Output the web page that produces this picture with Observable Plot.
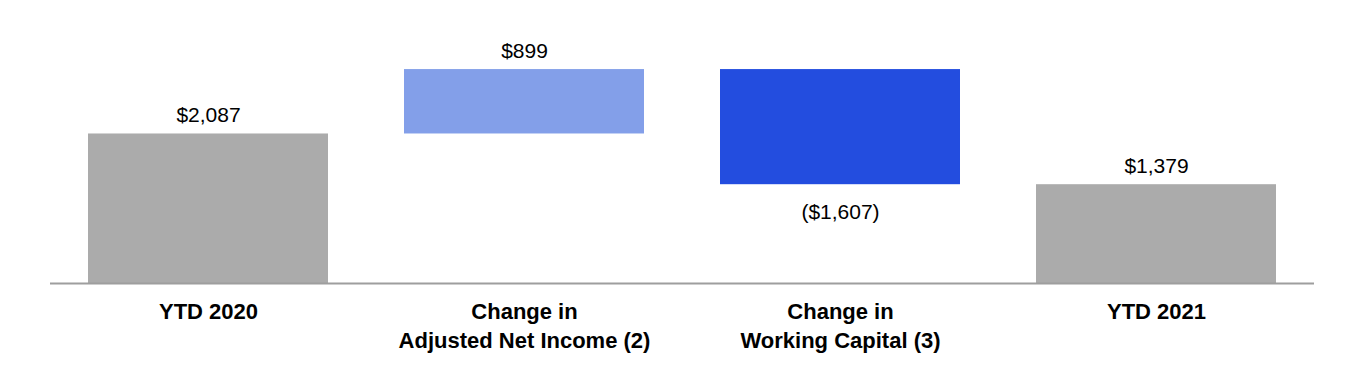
<!DOCTYPE html>
<html>
<head>
<meta charset="utf-8">
<script src="https://cdn.jsdelivr.net/npm/d3@7"></script>
<script src="https://cdn.jsdelivr.net/npm/@observablehq/plot@0.6"></script>
<style>
  html, body { margin: 0; padding: 0; background: #fff; }
  #chart { width: 1364px; height: 370px; }
</style>
</head>
<body>
<div id="chart"></div>
<script>
const categories = ["YTD 2020", "Change in\nAdjusted Net Income (2)", "Change in\nWorking Capital (3)", "YTD 2021"];
const values = [2087, 899, -1607, 1379];
const kinds = ["total", "delta", "delta", "total"];

// build waterfall table from the values
let running = 0;
const rows = categories.map((c, i) => {
  const v = values[i];
  let y1, y2;
  if (kinds[i] === "total") { y1 = 0; y2 = v; running = v; }
  else { y1 = running; y2 = running + v; running += v; }
  const type = kinds[i] === "total" ? "total" : (v >= 0 ? "increase" : "decrease");
  const fmt = d3.format(",");
  const label = v < 0 ? `($${fmt(-v)})` : `$${fmt(v)}`;
  return {category: c, value: v, y1, y2, top: Math.max(y1, y2), bottom: Math.min(y1, y2), type, label};
});

const chart = Plot.plot({
  width: 1364,
  height: 370,
  marginLeft: 50,
  marginRight: 50,
  marginTop: 0,
  marginBottom: 87,
  style: {fontFamily: "'Liberation Sans', Arial, sans-serif", color: "#000", background: "#fff"},
  x: {domain: categories, paddingInner: 0.24, paddingOuter: 0.12, label: null},
  y: {domain: [0, 3950], axis: null},
  color: {domain: ["total", "increase", "decrease"], range: ["#ababab", "#839fe9", "#234ddf"]},
  marks: [
    Plot.barY(rows, {x: "category", y1: "y1", y2: "y2", fill: "type"}),
    Plot.ruleY([0], {stroke: "#9e9e9e", strokeWidth: 2}),
    Plot.text(rows.filter(d => d.value >= 0), {x: "category", y: "top", text: "label", lineAnchor: "bottom", dy: -12, fontSize: 21, fill: "#000"}),
    Plot.text(rows.filter(d => d.value < 0), {x: "category", y: "bottom", text: "label", lineAnchor: "top", dy: 19, fontSize: 21, fill: "#000"}),
    Plot.axisX({tickSize: 0, tickPadding: 15, fontSize: 22, fontWeight: "bold", lineHeight: 1.32, label: null, fill: "#000"})
  ]
});
document.getElementById("chart").appendChild(chart);
</script>
</body>
</html>
